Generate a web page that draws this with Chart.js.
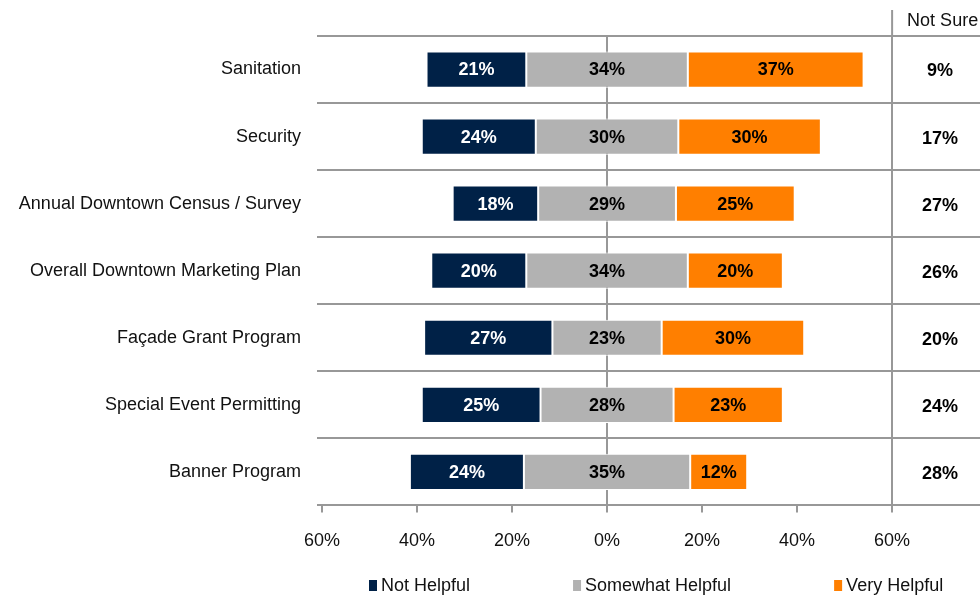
<!DOCTYPE html>
<html>
<head>
<meta charset="utf-8">
<script src="https://cdn.jsdelivr.net/npm/chart.js@4.4.1/dist/chart.umd.min.js"></script>
<style>
  html, body { margin: 0; padding: 0; background: #fff; }
  #wrap { width: 980px; height: 596px; }
</style>
</head>
<body>
<div id="wrap"><canvas id="chart"></canvas></div>
<script>
const categories = [
    'Sanitation',
    'Security',
    'Annual Downtown Census / Survey',
    'Overall Downtown Marketing Plan',
    'Façade Grant Program',
    'Special Event Permitting',
    'Banner Program',
];
const notHelpful = [21, 24, 18, 20, 27, 25, 24];
const somewhatHelpful = [34, 30, 29, 34, 23, 28, 35];
const veryHelpful = [37, 30, 25, 20, 30, 23, 12];
const notSure = [9, 17, 27, 26, 20, 24, 28];
const axisTicks = [-60, -40, -20, 0, 20, 40, 60];
const seriesNames = ['Not Helpful', 'Somewhat Helpful', 'Very Helpful'];
const seriesColors = ['#002147', '#B2B2B2', '#FF7F00'];

const FONT = '"Liberation Sans", Arial, sans-serif';
const GRID = '#989898';
const seriesValues = [notHelpful, somewhatHelpful, veryHelpful];

// diverging bars: the middle series is centred on 0
const ranges = [
    notHelpful.map((v, i) => [-somewhatHelpful[i] / 2 - v, -somewhatHelpful[i] / 2]),
    somewhatHelpful.map(v => [-v / 2, v / 2]),
    veryHelpful.map((v, i) => [somewhatHelpful[i] / 2, somewhatHelpful[i] / 2 + v]),
];

const labelPlugin = {
    id: 'barLabels',
    afterDatasetsDraw(chart) {
        const ctx = chart.ctx;
        const xs = chart.scales.x;
        const ys = chart.scales.y;
        ctx.save();
        ctx.textAlign = 'center';
        ctx.textBaseline = 'middle';
        ctx.font = 'bold 18px ' + FONT;
        chart.data.datasets.forEach((ds, di) => {
            chart.getDatasetMeta(di).data.forEach((bar, i) => {
                ctx.fillStyle = di === 0 ? '#fff' : '#000';
                ctx.fillText(seriesValues[di][i] + '%', (bar.x + bar.base) / 2, bar.y + 1);
            });
        });

        // "Not Sure" column right of the 60% line
        const sep = xs.getPixelForValue(60);
        const cx = (sep + chart.chartArea.right) / 2 + 4;
        ctx.fillStyle = '#000';
        notSure.forEach((v, i) => {
            ctx.fillText(v + '%', cx, ys.getPixelForValue(i) + 2);
        });
        ctx.font = '18px ' + FONT;
        ctx.fillStyle = '#111';
        ctx.textAlign = 'left';
        ctx.fillText('Not Sure', sep + 15, 21);

        ctx.strokeStyle = GRID;
        ctx.lineWidth = 2;
        ctx.beginPath();
        ctx.moveTo(sep, 10);
        ctx.lineTo(sep, chart.chartArea.top);
        ctx.stroke();
        ctx.restore();
    }
};

const legendPlugin = {
    id: 'bottomLegend',
    afterDraw(chart) {
        const ctx = chart.ctx;
        const y = 586;
        let x = 369;
        ctx.save();
        ctx.font = '18px ' + FONT;
        ctx.textBaseline = 'middle';
        ctx.textAlign = 'left';
        seriesNames.forEach((name, i) => {
            ctx.fillStyle = seriesColors[i];
            ctx.fillRect(x, y - 6, 8, 11);
            ctx.fillStyle = '#111';
            ctx.fillText(name, x + 12, y);
            x += 12 + ctx.measureText(name).width + 103;
        });
        ctx.restore();
    }
};

new Chart(document.getElementById('chart'), {
    type: 'bar',
    data: {
        labels: categories,
        datasets: seriesNames.map((name, i) => ({
            label: name,
            data: ranges[i],
            backgroundColor: seriesColors[i],
            borderColor: '#fff',
            borderWidth: 1,
            borderSkipped: false,
            categoryPercentage: 1,
            barPercentage: 0.54,
            grouped: false,
        })),
    },
    options: {
        indexAxis: 'y',
        responsive: true,
        maintainAspectRatio: false,
        animation: false,
        layout: { padding: { top: 36, bottom: 26, left: 0, right: 0 } },
        plugins: {
            legend: { display: false },
            tooltip: { enabled: false },
        },
        scales: {
            x: {
                type: 'linear',
                min: -60,
                max: 78.5,
                afterBuildTicks(scale) {
                    scale.ticks = axisTicks.map(v => ({ value: v }));
                },
                ticks: {
                    callback: v => Math.abs(v) + '%',
                    font: { family: FONT, size: 18 },
                    color: '#111',
                    padding: 18,
                    maxRotation: 0,
                },
                grid: {
                    color: c => (c.tick && (c.tick.value === 0 || c.tick.value === 60)) ? GRID : 'rgba(0,0,0,0)',
                    tickColor: GRID,
                    lineWidth: 2,
                    tickLength: 7,
                },
                border: { color: GRID, width: 2 },
            },
            y: {
                type: 'category',
                offset: true,
                afterFit(scale) {
                    scale.width = 322;
                },
                ticks: {
                    font: { family: FONT, size: 18 },
                    color: '#111',
                    padding: 16,
                },
                grid: {
                    offset: true,
                    color: GRID,
                    lineWidth: 2,
                    tickLength: 5,
                },
                border: { display: false },
            },
        },
    },
    plugins: [labelPlugin, legendPlugin],
});
</script>
</body>
</html>
